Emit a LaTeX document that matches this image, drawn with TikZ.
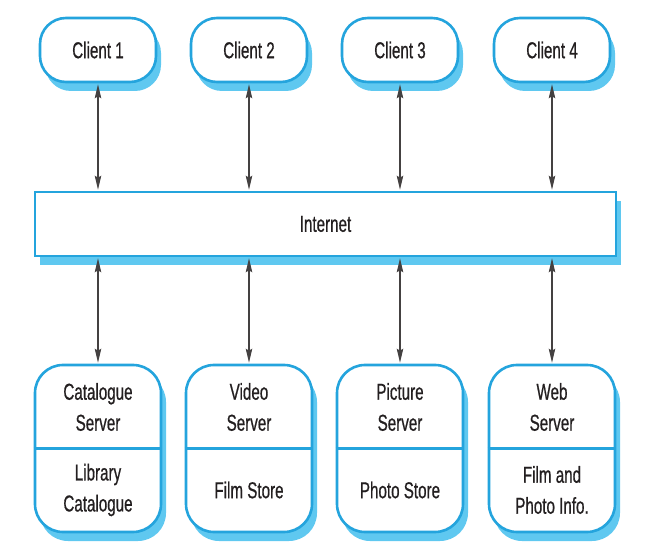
\documentclass[tikz,border=0pt]{standalone}
\usepackage{fontspec}
\setmainfont[FakeStretch=0.66,FakeBold=0.6]{Liberation Sans}
\usetikzlibrary{arrows.meta,shadows}
\definecolor{bord}{RGB}{36,164,221}
\definecolor{shade}{RGB}{95,200,240}
\definecolor{ink}{RGB}{35,31,32}
\tikzset{
  myshadow/.style={drop shadow={shadow xshift=5pt,shadow yshift=-9pt,fill=shade,opacity=1}},
  client/.style={draw=bord,line width=2.6pt,fill=white,rounded corners=26pt,
    minimum width=116pt,minimum height=64pt,myshadow,font=\fontsize{23}{31}\selectfont,text=ink},
  netbox/.style={draw=bord,line width=2.6pt,fill=white,
    minimum width=581pt,minimum height=64pt,myshadow,font=\fontsize{23}{31}\selectfont,text=ink},
  server/.style={draw=bord,line width=2.6pt,fill=white,rounded corners=28pt,
    minimum width=126pt,minimum height=167pt,myshadow},
  lbl/.style={align=center,font=\fontsize{23}{31}\selectfont,text=ink,inner sep=0pt},
  divider/.style={draw=bord,line width=2.6pt},
  link/.style={draw=ink!85,line width=1.1pt,{Stealth[length=14pt,width=6.5pt,inset=2pt]}-{Stealth[length=14pt,width=6.5pt,inset=2pt]},shorten <=1pt,shorten >=1pt}
}
\begin{document}
\begin{tikzpicture}[x=1pt,y=-1pt]
\useasboundingbox (0,0) rectangle (662,556);
% clients
\node[client] (c1) at (98,50) {Client 1};
\node[client] (c2) at (249,50) {Client 2};
\node[client] (c3) at (400,50) {Client 3};
\node[client] (c4) at (552,50) {Client 4};
% internet
\node[netbox] (net) at (325.5,224) {Internet};
% servers
\node[server] (s1) at (98,448.5) {};
\node[server] (s2) at (249,448.5) {};
\node[server] (s3) at (400,448.5) {};
\node[server] (s4) at (552,448.5) {};
\foreach \s in {s1,s2,s3,s4}{\draw[divider] (\s.west) -- (\s.east);}
\node[lbl] (s1a) at ([yshift=41.5pt]s1.center) {Catalogue\\Server};
\node[lbl] (s1b) at ([yshift=-41.5pt]s1.center) {Library\\Catalogue};
\node[lbl] (s2a) at ([yshift=41.5pt]s2.center) {Video\\Server};
\node[lbl] (s2b) at ([yshift=-41.5pt]s2.center) {Film Store};
\node[lbl] (s3a) at ([yshift=41.5pt]s3.center) {Picture\\Server};
\node[lbl] (s3b) at ([yshift=-41.5pt]s3.center) {Photo Store};
\node[lbl] (s4a) at ([yshift=41.5pt]s4.center) {Web\\Server};
\node[lbl] (s4b) at ([yshift=-41.5pt]s4.center) {Film and\\Photo Info.};
% links
\foreach \c/\s in {c1/s1,c2/s2,c3/s3,c4/s4}{
  \draw[link] (\c.south) -- (\c.south |- net.north);
  \draw[link] (\s.north |- net.south) -- (\s.north);
}
\end{tikzpicture}
\end{document}
